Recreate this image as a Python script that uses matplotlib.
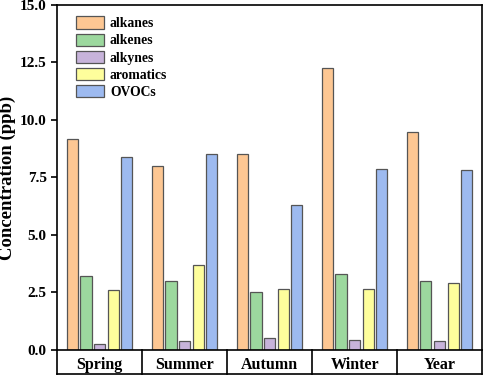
import numpy as np
import matplotlib.pyplot as plt
from matplotlib.lines import Line2D

plt.rcParams['font.family'] = 'Liberation Serif'
plt.rcParams['font.weight'] = 'bold'
plt.rcParams['axes.labelweight'] = 'bold'

# dados
estacoes = ['Spring', 'Summer', 'Autumn', 'Winter', 'Year']
grupos = ['alkanes', 'alkenes', 'alkynes', 'aromatics', 'OVOCs']
alkanes = [9.15, 8.0, 8.52, 12.25, 9.47]
alkenes = [3.23, 3.0, 2.52, 3.3, 3.0]
alkynes = [0.25, 0.4, 0.5, 0.45, 0.4]
aromatics = [2.62, 3.68, 2.63, 2.63, 2.92]
ovocs = [8.38, 8.53, 6.3, 7.85, 7.8]
cores = ['#FDC793', '#9CD89E', '#C7B3DA', '#FEFE9C', '#9DBAF0']

series = [alkanes, alkenes, alkynes, aromatics, ovocs]

fig = plt.figure(figsize=(4.84, 3.75), dpi=100)
ax = fig.add_axes([0.118, 0.067, 0.878, 0.92])

x = np.arange(len(estacoes))
passo = 0.16
largura = 0.13
for i, (vals, nome, cor) in enumerate(zip(series, grupos, cores)):
    ax.bar(x + (i - 2) * passo, vals, largura, color=cor, edgecolor='#555555',
           linewidth=0.9, label=nome)

ax.set_xlim(-0.5, len(estacoes) - 0.5)
ax.set_ylim(0, 15)
yt = [0, 2.5, 5, 7.5, 10, 12.5, 15]
ax.set_yticks(yt)
ax.set_yticklabels([f'{v:.1f}' for v in yt], fontsize=11, fontweight='bold')
ax.tick_params(axis='y', direction='out', length=4, width=1.2)
ax.tick_params(axis='x', length=0, pad=5)
ax.set_xticks(x)
ax.set_xticklabels(estacoes, fontsize=11.5, fontweight='bold')
ax.set_ylabel('Concentration (ppb)', fontsize=13.5, fontweight='bold', labelpad=3)
for s in ax.spines.values():
    s.set_linewidth(1.2)

# caixa abaixo do eixo x com divisorias
fundo = -0.07
for k in range(len(estacoes) + 1):
    xa = k / len(estacoes)
    ax.add_line(Line2D([xa, xa], [0, fundo], transform=ax.transAxes,
                       color='black', lw=1.2, clip_on=False))
ax.add_line(Line2D([0, 1], [fundo, fundo], transform=ax.transAxes,
                   color='black', lw=1.2, clip_on=False))

ax.legend(loc='upper left', frameon=False, fontsize=9.8, handlelength=2.1,
          handleheight=1.0, labelspacing=0.25, handletextpad=0.4,
          bbox_to_anchor=(0.025, 0.99), borderaxespad=0.2)

fig.savefig('out.png', dpi=100)
